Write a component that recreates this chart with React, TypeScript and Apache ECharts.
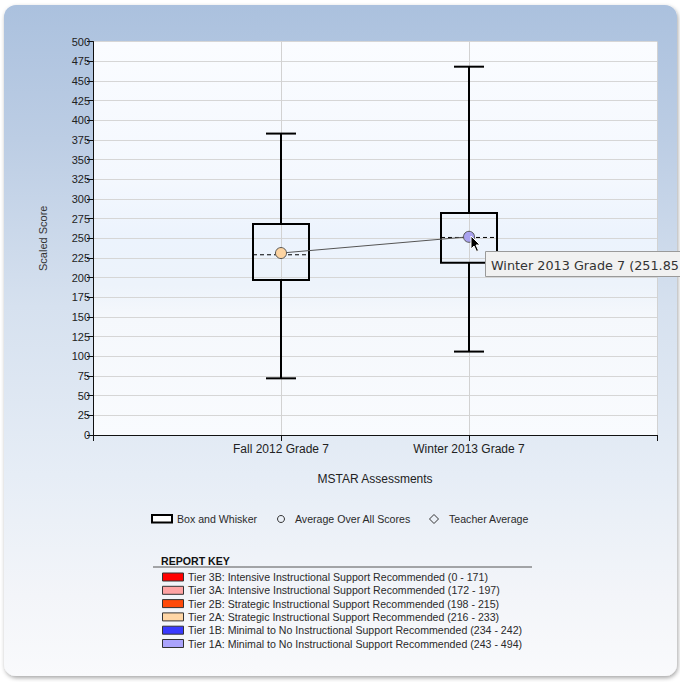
import React, { useEffect, useRef } from "react";
import * as echarts from "echarts";

const categories = ["", "Fall 2012 Grade 7", "Winter 2013 Grade 7", ""];
const boxCategoryIndex = [1, 2];
const whiskerMin = [72, 106];
const quartile1 = [197, 219];
const medianLine = [229, 251];
const quartile3 = [268, 282];
const whiskerMax = [383, 468];
const averageScores = [231.2, 251.85];
const averageColors = ["#fdd4a2", "#a9a2f0"];
const yTicks = { min: 0, max: 500, interval: 25 };

const reportKeyLabels = [
  "Tier 3B: Intensive Instructional Support Recommended (0 - 171)",
  "Tier 3A: Intensive Instructional Support Recommended (172 - 197)",
  "Tier 2B: Strategic Instructional Support Recommended (198 - 215)",
  "Tier 2A: Strategic Instructional Support Recommended (216 - 233)",
  "Tier 1B: Minimal to No Instructional Support Recommended (234 - 242)",
  "Tier 1A: Minimal to No Instructional Support Recommended (243 - 494)",
];
const reportKeyColors = ["#ff0000", "#ffa3a3", "#ff4a0a", "#ffd6a6", "#3a3aff", "#aaa3fb"];

const FONT = "'Liberation Sans', Arial, sans-serif";

export default function App() {
  const ref = useRef<HTMLDivElement>(null);

  useEffect(() => {
    if (!ref.current) return;
    const chart = echarts.init(ref.current, null, { renderer: "svg" });

    const boxData = boxCategoryIndex.map((c, i) => [
      c,
      whiskerMin[i],
      quartile1[i],
      medianLine[i],
      quartile3[i],
      whiskerMax[i],
    ]);
    const meanData = boxCategoryIndex.map((c, i) => ({
      value: [c, averageScores[i]],
      itemStyle: { color: averageColors[i] },
    }));

    const keyGraphics: any[] = [];
    reportKeyLabels.forEach((label, i) => {
      const y = 577 + i * 13.3;
      keyGraphics.push({
        type: "rect",
        shape: { x: 162.5, y: y - 4, width: 21, height: 8 },
        style: { fill: reportKeyColors[i], stroke: "#333", lineWidth: 1 },
      });
      keyGraphics.push({
        type: "text",
        x: 188,
        y,
        style: {
          text: label,
          font: `10.6px ${FONT}`,
          fill: "#2a2a2a",
          verticalAlign: "middle",
        },
      });
    });

    const option: any = {
      animation: false,
      graphic: {
        elements: [
          {
            type: "rect",
            z: -10,
            silent: true,
            shape: { x: 4, y: 5, width: 673, height: 671, r: 12 },
            style: {
              fill: new echarts.graphic.LinearGradient(0, 0, 0, 1, [
                { offset: 0, color: "#abc1de" },
                { offset: 0.2, color: "#bccde4" },
                { offset: 0.45, color: "#d6e1ef" },
                { offset: 0.7, color: "#e6edf6" },
                { offset: 0.88, color: "#f3f5f9" },
                { offset: 1, color: "#f9fafc" },
              ]),
              shadowBlur: 4,
              shadowOffsetX: 1,
              shadowOffsetY: 2,
              shadowColor: "rgba(0,0,0,0.35)",
            },
          },
          // legend
          {
            type: "rect",
            shape: { x: 152, y: 515, width: 20, height: 7.5 },
            style: { fill: "#ffffff", stroke: "#000", lineWidth: 2 },
          },
          {
            type: "text",
            x: 177,
            y: 519,
            style: { text: "Box and Whisker", font: `10.6px ${FONT}`, fill: "#2a2a2a", verticalAlign: "middle" },
          },
          {
            type: "circle",
            shape: { cx: 281, cy: 519, r: 3.5 },
            style: { fill: "none", stroke: "#333", lineWidth: 1 },
          },
          {
            type: "text",
            x: 295,
            y: 519,
            style: { text: "Average Over All Scores", font: `10.6px ${FONT}`, fill: "#2a2a2a", verticalAlign: "middle" },
          },
          {
            type: "polygon",
            shape: { points: [[434, 514.5], [438.5, 519], [434, 523.5], [429.5, 519]] },
            style: { fill: "none", stroke: "#333", lineWidth: 1 },
          },
          {
            type: "text",
            x: 449,
            y: 519,
            style: { text: "Teacher Average", font: `10.6px ${FONT}`, fill: "#2a2a2a", verticalAlign: "middle" },
          },
          // report key
          {
            type: "text",
            x: 161,
            y: 561,
            style: { text: "REPORT KEY", font: `bold 10.6px ${FONT}`, fill: "#111", verticalAlign: "middle" },
          },
          {
            type: "line",
            shape: { x1: 153, y1: 567, x2: 532, y2: 567 },
            style: { stroke: "#555", lineWidth: 1 },
          },
          ...keyGraphics,
          // tooltip (as it appears in the reference, running off the page edge)
          {
            type: "rect",
            z: 100,
            shape: { x: 485.5, y: 251.5, width: 200, height: 25 },
            style: { fill: "#f1f1f1", stroke: "#9a9a9a", lineWidth: 1 },
          },
          {
            type: "text",
            z: 101,
            x: 491,
            y: 265,
            style: {
              text: "Winter 2013 Grade 7 (251.85",
              font: "12.8px 'DejaVu Sans', Verdana, sans-serif",
              fill: "#333",
              verticalAlign: "middle",
            },
          },
          // mouse cursor
          {
            type: "polygon",
            z: 102,
            shape: {
              points: [
                [471, 236],
                [471, 249],
                [474, 246],
                [476.5, 251.5],
                [478.5, 250.5],
                [476, 245],
                [480, 245],
              ],
            },
            style: { fill: "#000", stroke: "#fff", lineWidth: 1 },
          },
        ],
      },
      grid: {
        left: 93,
        right: 23,
        top: 41.5,
        bottom: 247,
        show: true,
        borderWidth: 0,
        backgroundColor: new echarts.graphic.LinearGradient(0, 0, 0, 1, [
          { offset: 0, color: "#fafcff" },
          { offset: 0.35, color: "#f4f8fe" },
          { offset: 0.5, color: "#ecf3fd" },
          { offset: 0.62, color: "#edf3fb" },
          { offset: 0.7, color: "#f5f8fc" },
          { offset: 1, color: "#f9fbfe" },
        ]),
      },
      xAxis: {
        type: "category",
        data: categories,
        boundaryGap: false,
        name: "MSTAR Assessments",
        nameLocation: "middle",
        nameGap: 38,
        nameTextStyle: { fontFamily: FONT, fontSize: 12, color: "#222" },
        axisLine: { show: true, lineStyle: { color: "#111", width: 1 } },
        axisTick: { show: true, length: 6, lineStyle: { color: "#111" }, interval: 0 },
        axisLabel: { fontFamily: FONT, fontSize: 12, color: "#222", margin: 8, interval: 0 },
        splitLine: { show: true, interval: 0, lineStyle: { color: "#d2d2d2", width: 1 } },
      },
      yAxis: {
        type: "value",
        min: yTicks.min,
        max: yTicks.max,
        interval: yTicks.interval,
        name: "Scaled Score",
        nameLocation: "middle",
        nameGap: 45,
        nameRotate: 90,
        nameTextStyle: { fontFamily: FONT, fontSize: 11, color: "#333" },
        axisLine: { show: true, lineStyle: { color: "#111", width: 1 } },
        axisTick: { show: true, length: 6, lineStyle: { color: "#111" } },
        axisLabel: { fontFamily: FONT, fontSize: 11, color: "#222", margin: 3 },
        splitLine: { show: true, lineStyle: { color: "#d6d6d6", width: 1 } },
      },
      series: [
        {
          type: "custom",
          data: boxData,
          z: 3,
          renderItem: (params: any, api: any) => {
            const c = api.value(0);
            const pMin = api.coord([c, api.value(1)]);
            const pQ1 = api.coord([c, api.value(2)]);
            const pMed = api.coord([c, api.value(3)]);
            const pQ3 = api.coord([c, api.value(4)]);
            const pMax = api.coord([c, api.value(5)]);
            const x = pMin[0];
            const hw = 28;
            const cw = 15;
            const lineStyle = { stroke: "#000", lineWidth: 2 };
            return {
              type: "group",
              children: [
                { type: "line", shape: { x1: x, y1: pMax[1], x2: x, y2: pQ3[1] }, style: lineStyle },
                { type: "line", shape: { x1: x, y1: pQ1[1], x2: x, y2: pMin[1] }, style: lineStyle },
                { type: "line", shape: { x1: x - cw, y1: pMax[1], x2: x + cw, y2: pMax[1] }, style: lineStyle },
                { type: "line", shape: { x1: x - cw, y1: pMin[1], x2: x + cw, y2: pMin[1] }, style: lineStyle },
                {
                  type: "rect",
                  shape: { x: x - hw, y: pQ3[1], width: hw * 2, height: pQ1[1] - pQ3[1] },
                  style: { fill: "none", stroke: "#000", lineWidth: 2 },
                },
                {
                  type: "line",
                  shape: { x1: x - hw, y1: pMed[1], x2: x + hw, y2: pMed[1] },
                  style: { stroke: "#000", lineWidth: 1, lineDash: [4, 3] },
                },
              ],
            };
          },
        },
        {
          type: "line",
          data: meanData,
          z: 5,
          symbol: "circle",
          symbolSize: 11,
          lineStyle: { color: "#555", width: 1 },
          itemStyle: { borderColor: "#555", borderWidth: 1 },
        },
      ],
    };

    chart.setOption(option);
    return () => chart.dispose();
  }, []);

  return (
    <div
      ref={ref}
      style={{ position: "absolute", left: 0, top: 0, width: 680, height: 682, background: "#ffffff" }}
    />
  );
}
